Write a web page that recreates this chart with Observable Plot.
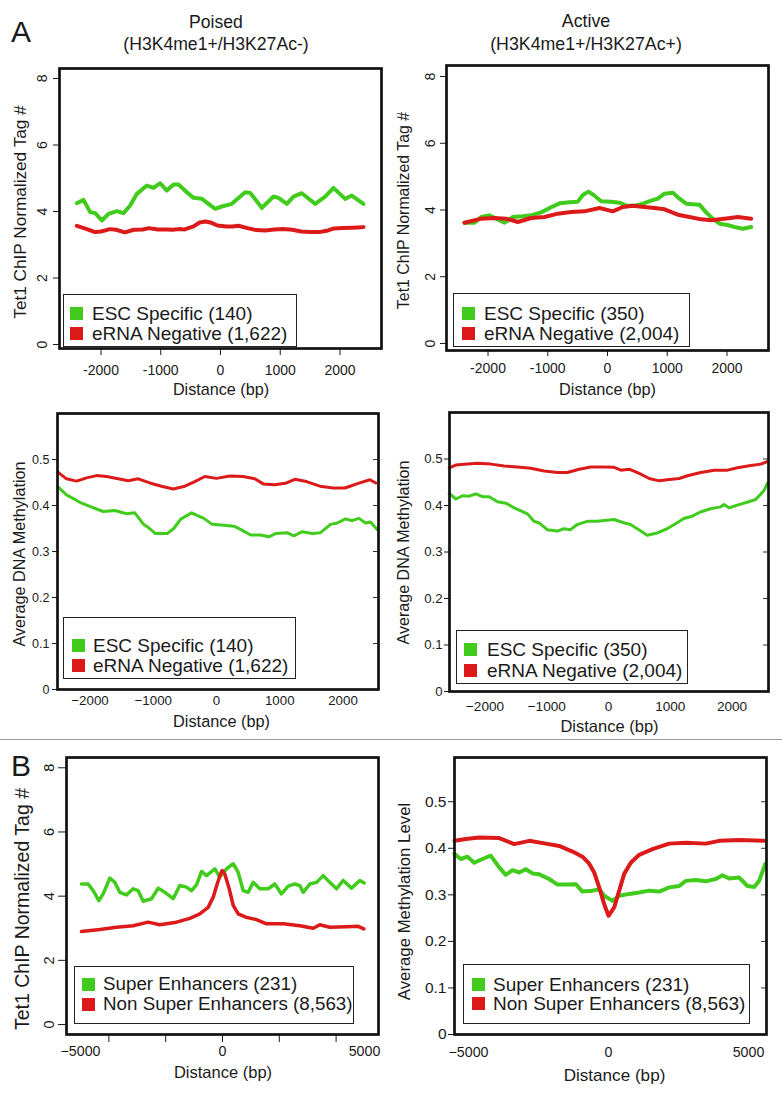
<!DOCTYPE html>
<html><head><meta charset="utf-8">
<script src="https://cdn.jsdelivr.net/npm/d3@7"></script>
<script src="https://cdn.jsdelivr.net/npm/@observablehq/plot@0.6"></script>
<style>
body{margin:0;background:#fff;}
#fig{position:relative;width:782px;height:1097px;overflow:hidden;font-family:"Liberation Sans",Arial,sans-serif;color:#1a1a1a;background:#fff;}
.t{position:absolute;white-space:nowrap;line-height:1;}
.lg{position:absolute;border:1.3px solid #222;box-sizing:border-box;background:#fff;}
.sq{position:absolute;width:13px;height:13px;}
</style></head><body><div id="fig"></div>
<script>
const GREEN = "#41cc1d", RED = "#dc1a1a";
const FONT = '"Liberation Sans", Arial, sans-serif';

// ---- Panel A, Poised, Tet1 ChIP (distance bp, tag #)
const poisedTetEsc = [[-2405,4.25],[-2293,4.35],[-2181,3.98],[-2098,3.95],[-1986,3.73],[-1874,3.93],[-1735,4.01],[-1623,3.95],[-1512,4.18],[-1400,4.53],[-1233,4.78],[-1121,4.71],[-1009,4.85],[-898,4.63],[-787,4.81],[-703,4.81],[-563,4.58],[-452,4.41],[-312,4.38],[-89,4.08],[22,4.15],[189,4.23],[413,4.58],[497,4.56],[692,4.11],[887,4.45],[971,4.41],[1110,4.23],[1222,4.45],[1361,4.55],[1445,4.43],[1585,4.23],[1752,4.45],[1891,4.71],[2087,4.38],[2198,4.48],[2393,4.23]];
const poisedTetErna = [[-2405,3.57],[-2250,3.48],[-2100,3.38],[-2000,3.40],[-1850,3.47],[-1750,3.45],[-1600,3.37],[-1450,3.45],[-1300,3.46],[-1200,3.50],[-1050,3.46],[-900,3.46],[-800,3.45],[-700,3.47],[-600,3.46],[-450,3.55],[-350,3.67],[-250,3.70],[-150,3.66],[-50,3.58],[100,3.55],[200,3.55],[300,3.57],[450,3.50],[600,3.44],[750,3.43],[900,3.46],[1050,3.47],[1200,3.45],[1350,3.40],[1500,3.38],[1650,3.38],[1800,3.43],[1900,3.49],[2050,3.50],[2200,3.51],[2300,3.52],[2393,3.53]];
// ---- Panel A, Active, Tet1 ChIP
const activeTetEsc = [[-2393,3.62],[-2226,3.62],[-2114,3.79],[-1975,3.84],[-1863,3.74],[-1724,3.62],[-1584,3.79],[-1417,3.81],[-1278,3.84],[-1110,3.93],[-943,4.08],[-803,4.20],[-636,4.23],[-497,4.25],[-413,4.45],[-318,4.55],[-218,4.43],[-106,4.26],[61,4.25],[201,4.22],[313,4.13],[452,4.13],[591,4.19],[731,4.28],[842,4.34],[954,4.49],[1093,4.52],[1177,4.38],[1317,4.19],[1540,4.16],[1651,3.93],[1763,3.74],[1875,3.59],[1986,3.56],[2126,3.49],[2265,3.44],[2405,3.49]];
const activeTetErna = [[-2393,3.62],[-2114,3.74],[-1891,3.76],[-1696,3.74],[-1500,3.64],[-1278,3.76],[-1054,3.79],[-831,3.89],[-608,3.94],[-385,3.96],[-134,4.06],[89,3.96],[256,4.09],[424,4.13],[619,4.09],[787,4.06],[954,4.02],[1177,3.86],[1372,3.79],[1568,3.72],[1735,3.69],[1959,3.74],[2182,3.79],[2405,3.74]];
// ---- Panel A, Poised, DNA methylation
const poisedMethEsc = [[-2503,0.440],[-2372,0.423],[-2161,0.407],[-2003,0.398],[-1792,0.387],[-1608,0.389],[-1423,0.382],[-1292,0.384],[-1159,0.360],[-1096,0.354],[-964,0.339],[-780,0.339],[-675,0.350],[-569,0.370],[-395,0.384],[-200,0.372],[-68,0.359],[116,0.357],[274,0.355],[379,0.348],[538,0.336],[696,0.336],[827,0.332],[933,0.339],[1117,0.341],[1222,0.334],[1355,0.343],[1513,0.339],[1644,0.341],[1802,0.359],[1908,0.362],[2040,0.371],[2145,0.367],[2250,0.372],[2356,0.362],[2435,0.364],[2540,0.348]];
const poisedMethErna = [[-2503,0.472],[-2372,0.458],[-2213,0.453],[-2055,0.460],[-1897,0.465],[-1739,0.463],[-1555,0.458],[-1397,0.454],[-1238,0.458],[-1054,0.449],[-870,0.442],[-685,0.436],[-501,0.442],[-343,0.452],[-185,0.463],[0,0.459],[211,0.464],[422,0.463],[606,0.458],[738,0.447],[922,0.445],[1107,0.449],[1238,0.457],[1423,0.452],[1634,0.442],[1845,0.438],[2029,0.438],[2134,0.443],[2240,0.448],[2424,0.456],[2519,0.449]];
// ---- Panel A, Active, DNA methylation
const activeMethEsc = [[-2580,0.426],[-2473,0.414],[-2364,0.421],[-2256,0.420],[-2149,0.425],[-2040,0.419],[-1932,0.419],[-1798,0.408],[-1663,0.405],[-1527,0.395],[-1312,0.382],[-1209,0.366],[-1128,0.363],[-993,0.348],[-831,0.345],[-723,0.350],[-615,0.348],[-507,0.359],[-345,0.366],[-183,0.366],[86,0.370],[248,0.363],[356,0.359],[491,0.348],[627,0.336],[789,0.341],[950,0.350],[1112,0.363],[1220,0.372],[1355,0.377],[1490,0.386],[1652,0.393],[1814,0.397],[1868,0.402],[1949,0.395],[2111,0.402],[2246,0.407],[2381,0.413],[2462,0.424],[2521,0.433],[2575,0.448]];
const activeMethErna = [[-2580,0.481],[-2473,0.487],[-2283,0.489],[-2121,0.491],[-1906,0.489],[-1690,0.485],[-1474,0.483],[-1258,0.480],[-1042,0.474],[-826,0.471],[-664,0.471],[-475,0.478],[-287,0.483],[-70,0.483],[92,0.482],[200,0.476],[335,0.478],[497,0.469],[659,0.458],[821,0.453],[983,0.456],[1145,0.458],[1279,0.464],[1495,0.471],[1712,0.476],[1927,0.476],[2089,0.481],[2305,0.486],[2466,0.489],[2563,0.494]];
// ---- Panel B, Tet1 ChIP
const superTet = [[-4965,4.38],[-4729,4.38],[-4553,4.17],[-4355,3.86],[-4201,4.07],[-3968,4.56],[-3792,4.43],[-3616,4.12],[-3380,4.04],[-3145,4.23],[-2969,4.17],[-2793,3.84],[-2500,3.92],[-2264,4.25],[-2030,4.12],[-1736,3.92],[-1503,4.33],[-1268,4.28],[-1092,4.17],[-915,4.35],[-739,4.77],[-563,4.64],[-270,4.85],[-95,4.59],[141,4.85],[377,5.01],[553,4.74],[729,4.17],[905,4.12],[1081,4.43],[1313,4.23],[1609,4.23],[1842,4.38],[2077,4.07],[2313,4.31],[2546,4.38],[2722,4.33],[2842,4.12],[3074,4.38],[3310,4.43],[3546,4.64],[3778,4.43],[4014,4.23],[4250,4.49],[4542,4.25],[4835,4.49],[4989,4.41]];
const nonSuperTet = [[-4965,2.90],[-4320,2.96],[-3732,3.03],[-3145,3.08],[-2616,3.19],[-2207,3.11],[-1620,3.19],[-1151,3.31],[-799,3.45],[-505,3.65],[-327,3.97],[-187,4.38],[-70,4.69],[-12,4.80],[81,4.69],[236,4.23],[377,3.71],[553,3.45],[845,3.34],[1197,3.27],[1549,3.14],[2137,3.14],[2722,3.08],[3194,3.00],[3426,3.11],[3778,3.03],[4366,3.05],[4778,3.06],[4975,2.98]];
// ---- Panel B, methylation level
const superMeth = [[-5500,0.388],[-5275,0.377],[-5036,0.382],[-4796,0.369],[-4500,0.377],[-4204,0.384],[-3904,0.359],[-3668,0.343],[-3429,0.353],[-3189,0.348],[-2954,0.355],[-2714,0.346],[-2475,0.344],[-2118,0.334],[-1821,0.322],[-1464,0.322],[-1168,0.323],[-929,0.307],[-571,0.309],[-332,0.312],[-154,0.298],[143,0.287],[382,0.298],[739,0.302],[1096,0.305],[1454,0.309],[1811,0.307],[2168,0.316],[2525,0.319],[2761,0.330],[3118,0.332],[3475,0.329],[3832,0.334],[4071,0.342],[4311,0.335],[4668,0.337],[4964,0.319],[5204,0.317],[5382,0.330],[5596,0.366]];
const nonSuperMeth = [[-5500,0.416],[-5096,0.420],[-4618,0.423],[-3904,0.422],[-3368,0.409],[-2832,0.416],[-2239,0.410],[-1761,0.405],[-1286,0.393],[-929,0.382],[-689,0.367],[-511,0.348],[-332,0.316],[-154,0.280],[0,0.255],[204,0.273],[382,0.309],[561,0.345],[796,0.369],[1096,0.386],[1571,0.398],[2168,0.410],[2761,0.412],[3475,0.410],[3954,0.416],[4668,0.418],[5561,0.416]];

// ---- tick values & labels
const ticksA = [-2000,-1000,0,1000,2000];
const tagTicks = [0,2,4,6,8];
const methTicks = [0,0.1,0.2,0.3,0.4,0.5];
const ticksBmarks = [-4000,-2000,0,2000,4000];
const ticksBlabels = [-5000,0,5000];
const hyph = d => (d < 0 ? "-" + Math.abs(d) : String(d));
const minus = d => (d < 0 ? "\u2212" + Math.abs(d) : String(d));
const dec = d => String(+d.toFixed(1));

const fig = document.getElementById("fig");
function addText(str, x, y, size, opts = {}) {
  const d = document.createElement("div");
  d.className = "t";
  d.textContent = str;
  d.style.left = x + "px"; d.style.top = y + "px"; d.style.fontSize = size + "px";
  d.style.transform = opts.tf || "translate(-50%,-50%)";
  fig.appendChild(d);
}
function addLegend(box, sqX, txX, rows, items, size) {
  const b = document.createElement("div");
  b.className = "lg";
  b.style.left = box[0] + "px"; b.style.top = box[1] + "px";
  b.style.width = box[2] + "px"; b.style.height = box[3] + "px";
  fig.appendChild(b);
  items.forEach(([label, color], i) => {
    const s = document.createElement("div");
    s.className = "sq"; s.style.background = color;
    s.style.left = sqX + "px"; s.style.top = (rows[i] - 6.5) + "px";
    fig.appendChild(s);
    addText(label, txX, rows[i], size, {tf: "translate(0,-50%)"});
  });
}
function panel(p) {
  const svg = Plot.plot({
    width: p.w, height: p.h,
    marginLeft: p.ml, marginRight: p.mr, marginTop: p.mt, marginBottom: p.mb,
    x: {domain: p.xd}, y: {domain: p.yd},
    style: {fontFamily: FONT, fontSize: "14px", color: "#1a1a1a", background: "transparent", overflow: "visible"},
    marks: [
      ...p.axes,
      Plot.line(p.green, {x: d => d[0], y: d => d[1], stroke: GREEN, strokeWidth: p.lw, strokeLinejoin: "round", strokeLinecap: "round"}),
      Plot.line(p.red, {x: d => d[0], y: d => d[1], stroke: RED, strokeWidth: p.lw, strokeLinejoin: "round", strokeLinecap: "round"}),
      Plot.frame({stroke: "#111", strokeWidth: 2.7})
    ]
  });
  const set = (sel, size, shift) => svg.querySelectorAll(`g[aria-label="${sel}"]`).forEach(g => {
    g.setAttribute("font-size", size);
    g.querySelectorAll("text").forEach(t => t.setAttribute("font-size", size));
    if (shift) g.setAttribute("transform", (g.getAttribute("transform") || "") + ` translate(${shift[0]},${shift[1]})`);
  });
  set("x-axis tick label", p.fs[0]);
  set("y-axis tick label", p.fs[1]);
  set("x-axis label", p.fs[2], [p.xs || 0, 0]);
  set("y-axis label", p.fs[3], [0, p.ys || 0]);
  svg.style.position = "absolute";
  svg.style.left = p.left + "px"; svg.style.top = p.top + "px";
  fig.appendChild(svg);
}
const xTitle = (off) => Plot.axisX({ticks: [], tickSize: 0, label: "Distance (bp)", labelAnchor: "center", labelArrow: "none", labelOffset: off});
const yTitle = (txt, off) => Plot.axisY({ticks: [], tickSize: 0, label: txt, labelAnchor: "center", labelArrow: "none", labelOffset: off});
const innerTicks = (w) => Plot.tickY(methTicks, {y: d => d, insetLeft: w - 5, stroke: "#333", strokeWidth: 1});

// P1 Poised Tet1
panel({left: 0, top: 55, w: 392, h: 350, ml: 59, mr: 11, mt: 13, mb: 57, xd: [-2695, 2695], yd: [-0.12, 8.3], lw: 4,
  green: poisedTetEsc, red: poisedTetErna, fs: [14, 14, 16.2, 17.2], ys: 3.5, xs: 0.5,
  axes: [
    Plot.axisX({ticks: ticksA, tickFormat: hyph, tickSize: 7, tickPadding: 10, label: null}),
    xTitle(46.5),
    Plot.axisY({ticks: tagTicks, tickRotate: -90, tickSize: 6, tickPadding: 7, label: null}),
    yTitle("Tet1 ChIP Normalized Tag #", 46)
  ]});
// P2 Active Tet1
panel({left: 392, top: 55, w: 390, h: 350, ml: 54, mr: 14, mt: 10, mb: 55, xd: [-2695, 2695], yd: [-0.21, 8.33], lw: 4,
  green: activeTetEsc, red: activeTetErna, fs: [14, 14, 16.3, 15.9], ys: 2.5, xs: 0,
  axes: [
    Plot.axisX({ticks: ticksA, tickFormat: hyph, tickSize: 6, tickPadding: 7, label: null}),
    xTitle(44.7),
    Plot.axisY({ticks: tagTicks, tickRotate: -90, tickSize: 6, tickPadding: 6, label: null}),
    yTitle("Tet1 ChIP Normalized Tag #", 49)
  ]});
// P3 Poised methylation
panel({left: 0, top: 405, w: 392, h: 335, ml: 57, mr: 14, mt: 8, mb: 51, xd: [-2514, 2561], yd: [0, 0.6], lw: 3,
  green: poisedMethEsc, red: poisedMethErna, fs: [13.3, 12.5, 16.3, 16.2], ys: 2.5, xs: 3.5,
  axes: [
    Plot.axisX({ticks: ticksA, tickFormat: minus, tickSize: 0, tickPadding: 6, label: null}),
    xTitle(37.7),
    Plot.axisY({ticks: methTicks, tickFormat: dec, tickSize: 5, tickPadding: 3, label: null}),
    innerTicks(321),
    yTitle("Average DNA Methylation", 44)
  ]});
// P4 Active methylation
panel({left: 392, top: 405, w: 390, h: 335, ml: 57, mr: 14, mt: 7, mb: 49, xd: [-2575, 2591], yd: [0, 0.6], lw: 3,
  green: activeMethEsc, red: activeMethErna, fs: [13.6, 13.2, 16.5, 16.1], ys: 0.5, xs: 0.5,
  axes: [
    Plot.axisX({ticks: ticksA, tickFormat: minus, tickSize: 0, tickPadding: 10, label: null}),
    xTitle(40.8),
    Plot.axisY({ticks: methTicks, tickFormat: dec, tickSize: 5, tickPadding: 2, label: null}),
    innerTicks(319),
    yTitle("Average DNA Methylation", 52)
  ]});
// P5 Super enhancers Tet1
panel({left: 0, top: 745, w: 392, h: 352, ml: 66, mr: 14, mt: 12, mb: 63, xd: [-5493, 5493], yd: [-0.31, 8.32], lw: 3.5,
  green: superTet, red: nonSuperTet, fs: [14.2, 14.5, 16.5, 19.5], ys: 13, xs: 0.5,
  axes: [
    Plot.axisX({ticks: ticksBmarks, tickFormat: () => "", tickSize: 8, label: null}),
    Plot.axisX({ticks: ticksBlabels, tickFormat: minus, tickSize: 0, tickPadding: 11, label: null}),
    xTitle(43.8),
    Plot.axisY({ticks: tagTicks, tickRotate: -90, tickSize: 8, tickPadding: 5, label: null}),
    yTitle("Tet1 ChIP Normalized Tag #", 51)
  ]});
// P6 Super enhancers methylation
panel({left: 392, top: 745, w: 390, h: 352, ml: 62, mr: 16, mt: 12, mb: 63, xd: [-5500, 5643], yd: [0, 0.595], lw: 4,
  green: superMeth, red: nonSuperMeth, fs: [14.2, 15.5, 17.1, 16.8], ys: 5.5, xs: 4,
  axes: [
    Plot.axisX({ticks: ticksBlabels, tickFormat: minus, tickSize: 0, tickPadding: 12, label: null}),
    xTitle(46),
    Plot.axisY({ticks: methTicks, tickFormat: dec, tickSize: 6, tickPadding: 2, label: null}),
    innerTicks(312),
    yTitle("Average Methylation Level", 56)
  ]});

// titles and panel letters
addText("A", 11, 17, 30, {tf: "none"});
addText("B", 11, 751, 30, {tf: "none"});
addText("Poised", 216, 23, 17.6);
addText("(H3K4me1+/H3K27Ac-)", 216, 45, 17.6);
addText("Active", 586, 22, 17.8);
addText("(H3K4me1+/H3K27Ac+)", 586, 45, 17.8);
const sep = document.createElement("div");
sep.style.cssText = "position:absolute;left:0;top:739px;width:782px;height:1px;background:#9a9a9a;";
fig.appendChild(sep);

// legends
addLegend([63, 294, 234, 53], 70, 92, [313, 333], [["ESC Specific (140)", GREEN], ["eRNA Negative (1,622)", RED]], 19);
addLegend([453, 293, 237, 54], 462, 484, [313, 333], [["ESC Specific (350)", GREEN], ["eRNA Negative (2,004)", RED]], 19);
addLegend([63, 617, 233, 62], 72, 93, [645, 665], [["ESC Specific (140)", GREEN], ["eRNA Negative (1,622)", RED]], 19);
addLegend([456, 630, 232, 54], 464, 487, [649, 670], [["ESC Specific (350)", GREEN], ["eRNA Negative (2,004)", RED]], 19);
addLegend([74, 966, 280, 58], 82, 103, [984, 1004], [["Super Enhancers (231)", GREEN], ["Non Super Enhancers (8,563)", RED]], 18.8);
addLegend([463, 964, 287, 60], 472, 493, [984, 1003], [["Super Enhancers (231)", GREEN], ["Non Super Enhancers (8,563)", RED]], 19);
</script></body></html>
